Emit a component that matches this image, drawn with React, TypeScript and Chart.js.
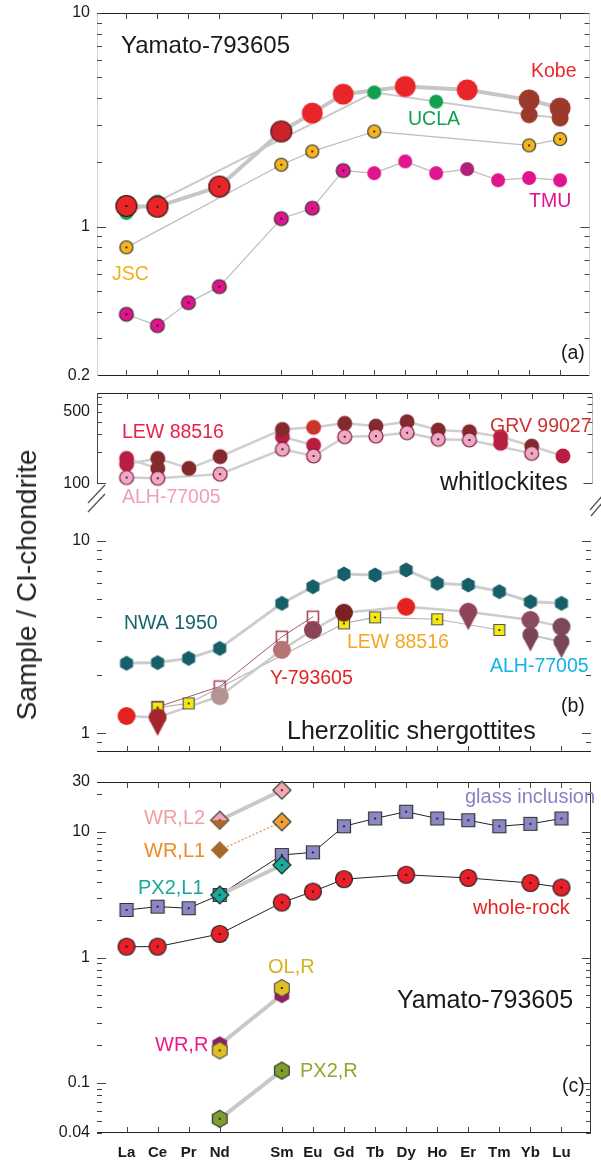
import React, { useEffect, useRef } from 'react';
import { Chart, registerables } from 'chart.js';

Chart.register(...registerables);

const FONT = '"Liberation Sans", Arial, Helvetica, sans-serif';

// ---------- categories ----------
const ELEMENTS = ['La', 'Ce', 'Pr', 'Nd', 'Pm', 'Sm', 'Eu', 'Gd', 'Tb', 'Dy', 'Ho', 'Er', 'Tm', 'Yb', 'Lu'];
const X_TICKS = [0, 1, 2, 3, 5, 6, 7, 8, 9, 10, 11, 12, 13, 14];

// ---------- (a) Yamato-793605 bulk analyses ----------
const A_KOBE = [1.25, 1.24, null, 1.54, null, 2.79, 3.40, 4.17, null, 4.53, null, 4.37, null, 3.92, 3.59];
const A_UCLA = [1.16, 1.31, null, null, null, null, null, null, 4.25, null, 3.85, null, null, 3.34, 3.22];
const A_JSC = [0.80, null, null, null, null, 1.95, 2.25, null, 2.79, null, null, null, null, 2.40, 2.57];
const A_TMU = [0.389, 0.344, 0.441, 0.524, null, 1.09, 1.22, 1.83, 1.78, 2.02, 1.78, 1.86, 1.65, 1.69, 1.65];

// ---------- (b) whitlockites ----------
const W_GRV = [154, 175, 140, 182, null, 336, 352, 385, 362, 399, 331, 319, 285, 231, 185];
const W_LEW = [175, 140, null, null, null, 285, 236, null, null, null, null, null, 246, null, null];
const W_ALH = [114, 112, null, 123, null, 215, 185, 285, 289, 312, 269, 265, null, 196, null];

// ---------- (b) lherzolitic shergottites ----------
const L_NWA = [2.31, 2.33, 2.45, 2.76, null, 4.73, 5.77, 6.72, 6.64, 7.05, 6.01, 5.89, 5.44, 4.82, 4.73];
const L_Y79 = [1.23, 1.21, null, 1.56, null, 2.71, 3.44, 4.23, null, 4.54, null, 4.28, null, 3.88, 3.58];
const L_OPEN = [null, 1.37, null, 1.75, null, 3.17, 4.03, null, null, null, null, null, null, null, null];
const L_LEW = [null, 1.36, 1.43, null, null, null, null, 3.72, 4.00, null, 3.91, null, 3.44, null, null];
const L_ALH = [null, null, null, null, null, null, null, null, null, null, null, null, null, 3.24, 2.99];

// ---------- (c) Yamato-793605 components ----------
const C_GLASS = [2.39, 2.54, 2.47, 3.15, null, 6.55, 6.88, 11.1, 12.8, 14.5, 12.8, 12.4, 11.1, 11.6, 12.8];
const C_WHOLE = [1.22, 1.22, null, 1.54, null, 2.74, 3.35, 4.21, null, 4.56, null, 4.30, null, 3.92, 3.61];
const C_WRL2 = [null, null, null, 12.4, null, 21.5, null, null, null, null, null, null, null, null, null];
const C_WRL1B = [null, null, null, 12.4, null, null, null, null, null, null, null, null, null, null, null];
const C_WRL1 = [null, null, null, 7.18, null, 12.05, null, null, null, null, null, null, null, null, null];
const C_PX2L1 = [null, null, null, 3.15, null, 5.46, null, null, null, null, null, null, null, null, null];
const C_WRR = [null, null, null, 0.202, null, 0.505, null, null, null, null, null, null, null, null, null];
const C_OLR = [null, null, null, 0.182, null, 0.571, null, null, null, null, null, null, null, null, null];
const C_PX2R = [null, null, null, 0.0519, null, 0.1257, null, null, null, null, null, null, null, null, null];

// ---------- axis ticks ----------
const A_Y_VALUES = [0.2, 1, 10];
const A_Y_TEXT = ['0.2', '1', '10'];
const A_Y_MINOR = [0.3, 0.4, 0.5, 0.6, 0.7, 0.8, 0.9, 1, 2, 3, 4, 5, 6, 7, 8, 9, 10];
const BU_Y_VALUES = [100, 500];
const BU_Y_TEXT = ['100', '500'];
const BU_Y_MINOR = [100, 200, 300, 400, 500, 600, 700];
const BL_Y_VALUES = [1, 10];
const BL_Y_TEXT = ['1', '10'];
const BL_Y_MINOR = [0.9, 1, 2, 3, 4, 5, 6, 7, 8, 9, 10];
const C_Y_VALUES = [0.04, 0.1, 1, 10, 25];
const C_Y_TEXT = ['0.04', '0.1', '1', '10', '30'];
const C_Y_MINOR = [0.04, 0.05, 0.06, 0.07, 0.08, 0.09, 0.1, 0.2, 0.3, 0.4, 0.5, 0.6, 0.7, 0.8, 0.9, 1, 2, 3, 4, 5, 6, 7, 8, 9, 10, 20];

// ---------- markers ----------
const markerCache: Record<string, HTMLCanvasElement> = {};
function makeMarker(shape: string, r: number, fill: string | null, stroke: string | null, dot: boolean) {
  const key = `${shape}|${r}|${fill}|${stroke}|${dot}`;
  if (markerCache[key]) return markerCache[key];
  const tip = shape === 'drop' ? r * 1.05 : 0;
  const half = Math.ceil(r + tip + 2);
  const c = document.createElement('canvas');
  c.width = half * 2;
  c.height = half * 2;
  const g = c.getContext('2d')!;
  g.translate(half, half);
  g.beginPath();
  if (shape === 'circle') g.arc(0, 0, r, 0, Math.PI * 2);
  else if (shape === 'square' || shape === 'open') g.rect(-r, -r, 2 * r, 2 * r);
  else if (shape === 'diamond') {
    g.moveTo(0, -r); g.lineTo(r, 0); g.lineTo(0, r); g.lineTo(-r, 0); g.closePath();
  } else if (shape === 'lowerdiamond') {
    g.moveTo(-r, 0); g.lineTo(r, 0); g.lineTo(0, r); g.closePath();
  } else if (shape === 'hex') {
    for (let k = 0; k < 6; k++) {
      const a = ((-90 + 60 * k) * Math.PI) / 180;
      const px = r * Math.cos(a);
      const py = r * Math.sin(a);
      if (k === 0) g.moveTo(px, py); else g.lineTo(px, py);
    }
    g.closePath();
  } else if (shape === 'drop') {
    g.arc(0, 0, r, Math.PI * 0.75, Math.PI * 2.25);
    g.lineTo(0, r + tip);
    g.closePath();
  }
  if (fill && shape !== 'open') { g.fillStyle = fill; g.fill(); }
  if (stroke) { g.lineWidth = shape === 'open' ? 1.6 : 1.2; g.strokeStyle = stroke; g.stroke(); }
  if (dot) { g.beginPath(); g.fillStyle = '#111'; g.arc(0, 0, 1.1, 0, Math.PI * 2); g.fill(); }
  markerCache[key] = c;
  return c;
}
const pick = (v: any, i: number) => (Array.isArray(v) ? v[i] : v);

// ---------- colours ----------
const RED = '#e8262a';
const BROWN = '#9b3a2c';
const GREEN = '#12a050';
const MAG = '#e0148c';
const DARKW = '#842a2e';
const CRIM = '#b81e42';
const OUT = '#333';
const N = null;

// ---------- panels ----------
const PANELS: any[] = [
  {
    id: 'a', canvasTop: -7, canvasHeight: 403, padTop: 20, padBottom: 20,
    yMin: 0.2, yMax: 10, yValues: A_Y_VALUES, yText: A_Y_TEXT, yMinor: A_Y_MINOR, yMajor: [1],
    showX: false,
    frame: { top: '#222', bottom: '#222', left: { color: '#d4d4d4' }, right: { color: '#d4d4d4' }, xTop: true, xBottom: true },
    series: [
      { values: A_TMU, shape: 'circle', r: 7, line: { color: '#bdbdbd', width: 1.2 },
        fill: [MAG, MAG, MAG, MAG, N, MAG, MAG, MAG, MAG, MAG, MAG, '#b0207a', MAG, MAG, MAG],
        stroke: [OUT, OUT, OUT, OUT, N, OUT, OUT, OUT, N, N, N, N, N, N, N],
        dot: [1, 1, 1, 1, 0, 1, 1, 1, 0, 0, 0, 0, 0, 0, 0] },
      { values: A_JSC, shape: 'circle', r: 6.5, fill: '#f5b51f', stroke: OUT, dot: true, line: { color: '#bdbdbd', width: 1.2 } },
      { values: A_UCLA, shape: 'circle', r: [7, 7, N, N, N, N, N, N, 7, N, 7, N, N, 8.5, 8.5],
        fill: [GREEN, GREEN, N, N, N, N, N, N, GREEN, N, GREEN, N, N, BROWN, BROWN], line: { color: '#c8c8c8', width: 1.8 } },
      { values: A_KOBE, shape: 'circle', r: 10.5, line: { color: '#c6c6c6', width: 4 },
        fill: [RED, RED, N, RED, N, '#c8242a', RED, RED, N, RED, N, RED, N, BROWN, BROWN],
        stroke: ['#331111', '#331111', N, '#331111', N, '#551515', N, N, N, N, N, N, N, N, N],
        dot: [1, 1, 0, 1, 0, 0, 0, 0, 0, 0, 0, 0, 0, 0, 0] },
    ],
    notes: [
      { t: 'Yamato-793605', x: 121, y: 46, c: '#1a1a1a', s: 24 },
      { t: 'Kobe', x: 531, y: 72, c: RED, s: 19.5 },
      { t: 'UCLA', x: 408, y: 120, c: GREEN, s: 19.5 },
      { t: 'JSC', x: 112, y: 275, c: '#f2b01e', s: 19.5 },
      { t: 'TMU', x: 529, y: 202, c: MAG, s: 19.5 },
      { t: '(a)', x: 561, y: 354, c: '#1a1a1a', s: 19.5 },
    ],
  },
  {
    id: 'bu', canvasTop: 373, canvasHeight: 150, padTop: 20, padBottom: 20,
    yMin: 64.3, yMax: 761, yValues: BU_Y_VALUES, yText: BU_Y_TEXT, yMinor: BU_Y_MINOR, yMajor: [100],
    showX: false,
    frame: { top: '#222', left: { color: '#444', to: 100 }, right: { color: '#bbb', to: 100 }, xTop: true },
    breaks: [[105, 485, 88, 503], [105, 494, 88, 512], [602, 496, 590, 510], [602, 503, 591, 516]],
    series: [
      { values: W_LEW, shape: 'circle', r: 7.5, span: false, line: { color: '#cfcfcf', width: 2.5 },
        fill: [CRIM, DARKW, N, N, N, CRIM, CRIM, N, N, N, N, N, CRIM, N, N] },
      { values: W_GRV, shape: 'circle', r: 7.5, line: { color: '#cfcfcf', width: 2.5 },
        fill: [CRIM, DARKW, DARKW, DARKW, N, DARKW, '#c8352a', DARKW, DARKW, DARKW, DARKW, DARKW, CRIM, DARKW, CRIM] },
      { values: W_ALH, shape: 'circle', r: 7, fill: '#f0a8c4', stroke: '#7a1a30', dot: true, line: { color: '#cfcfcf', width: 2.5 } },
    ],
    notes: [
      { t: 'LEW 88516', x: 122, y: 433, c: '#e8204e', s: 19.5 },
      { t: 'GRV 99027', x: 490, y: 427, c: '#cc3333', s: 19.5 },
      { t: 'ALH-77005', x: 122, y: 498, c: '#f29cbe', s: 19.5 },
      { t: 'whitlockites', x: 440, y: 483, c: '#1a1a1a', s: 25 },
    ],
  },
  {
    id: 'bl', canvasTop: 486, canvasHeight: 286, padTop: 20, padBottom: 20,
    yMin: 0.8, yMax: 15.14, yValues: BL_Y_VALUES, yText: BL_Y_TEXT, yMinor: BL_Y_MINOR, yMajor: [1, 10],
    showX: false,
    frame: { bottom: '#222', xBottom: true },
    series: [
      { values: L_NWA, shape: 'hex', r: 7.5, fill: '#175f68', line: { color: '#cdcdcd', width: 3 } },
      { values: L_OPEN, shape: 'open', r: 5.5, fill: N, stroke: '#a04858', line: { color: '#a45a6a', width: 1 } },
      { values: L_LEW, shape: 'square', r: 5.5, fill: '#f4ea10', stroke: '#555', dot: true, line: { color: '#b5b5b5', width: 1.2 } },
      { values: L_ALH, shape: 'drop', r: 8, fill: '#7a4656', line: { color: '#c4c4c4', width: 2 } },
      { values: L_Y79, r: 9, line: { color: '#cccccc', width: 2.5 },
        shape: ['circle', 'drop', N, 'circle', N, 'circle', 'circle', 'circle', N, 'circle', N, 'drop', N, 'circle', 'circle'],
        fill: ['#e52222', '#a3262e', N, '#b39494', N, '#b87474', '#8c4456', '#7a2222', N, '#e52222', N, '#8c4456', N, '#8c4a5c', '#7a4858'] },
    ],
    notes: [
      { t: 'NWA 1950', x: 124, y: 624, c: '#17646c', s: 19.5 },
      { t: 'Y-793605', x: 270, y: 679, c: '#e82020', s: 19.5 },
      { t: 'LEW 88516', x: 347, y: 643, c: '#f5a623', s: 19.5 },
      { t: 'ALH-77005', x: 490, y: 667, c: '#12b2ea', s: 19.5 },
      { t: '(b)', x: 561, y: 707, c: '#1a1a1a', s: 19.5 },
      { t: 'Lherzolitic shergottites', x: 287, y: 732, c: '#1a1a1a', s: 25 },
    ],
  },
  {
    id: 'c', canvasTop: 762, canvasHeight: 401, padTop: 20, padBottom: 0,
    yMin: 0.04, yMax: 25, yValues: C_Y_VALUES, yText: C_Y_TEXT, yMinor: C_Y_MINOR, yMajor: [0.1, 1, 10],
    showX: true,
    frame: { top: '#222', bottom: '#222', right: { color: '#333' }, xTop: true, xBottom: true },
    series: [
      { values: C_GLASS, shape: 'square', r: 6.5, fill: '#8c88c6', stroke: OUT, dot: true, line: { color: '#222', width: 1 } },
      { values: C_WHOLE, shape: 'circle', r: 8.5, fill: '#e8202a', stroke: '#222', dot: true, line: { color: '#222', width: 1 } },
      { values: C_PX2L1, shape: 'diamond', r: 9, fill: '#1aa89c', stroke: '#222', dot: true, line: { color: '#c8c8c8', width: 4 } },
      { values: C_WRL2, shape: 'diamond', r: 9, fill: '#f4a8b4', stroke: OUT, dot: true, line: { color: '#c8c8c8', width: 4 } },
      { values: C_WRL1B, shape: 'lowerdiamond', r: 9, fill: '#a8682c' },
      { values: C_WRL1, shape: 'diamond', r: 9, line: { color: '#d4a878', width: 1.5, dash: [2, 2] },
        fill: [N, N, N, '#a8682c', N, '#f0a030', N, N, N, N, N, N, N, N, N],
        stroke: [N, N, N, N, N, OUT, N, N, N, N, N, N, N, N, N],
        dot: [0, 0, 0, 0, 0, 1, 0, 0, 0, 0, 0, 0, 0, 0, 0] },
      { values: C_WRR, shape: 'hex', r: 8.5, fill: '#8b2060', line: { color: '#c8c8c8', width: 4 } },
      { values: C_OLR, shape: 'hex', r: 8.5, fill: '#e0c020', stroke: '#555', dot: true },
      { values: C_PX2R, shape: 'hex', r: 8.5, fill: '#7e9e2e', stroke: OUT, dot: true, line: { color: '#c8c8c8', width: 4 } },
    ],
    notes: [
      { t: 'WR,L2', x: 144, y: 818, c: '#f29ca6', s: 20 },
      { t: 'WR,L1', x: 144, y: 851, c: '#f08a22', s: 20 },
      { t: 'PX2,L1', x: 138, y: 888, c: '#16a89c', s: 20 },
      { t: 'glass inclusion', x: 465, y: 797, c: '#8882c4', s: 20 },
      { t: 'whole-rock', x: 473, y: 908, c: '#e82020', s: 20 },
      { t: 'OL,R', x: 268, y: 967, c: '#d6b21e', s: 20 },
      { t: 'WR,R', x: 155, y: 1045, c: '#f0198c', s: 20 },
      { t: 'PX2,R', x: 300, y: 1071, c: '#8eaa2c', s: 20 },
      { t: 'Yamato-793605', x: 397, y: 1001, c: '#1a1a1a', s: 25 },
      { t: '(c)', x: 562, y: 1087, c: '#1a1a1a', s: 19.5 },
    ],
  },
];

function panelPlugin(p: any) {
  return {
    id: 'panel_' + p.id,
    beforeDatasetsDraw(chart: any) {
      const { ctx, chartArea: a } = chart;
      const xs = chart.scales.x;
      const ys = chart.scales.y;
      const f = p.frame;
      const tc = '#444';
      const seg = (x1: number, y1: number, x2: number, y2: number, color: string, w = 1) => {
        ctx.strokeStyle = color;
        ctx.lineWidth = w;
        ctx.beginPath();
        ctx.moveTo(x1, y1);
        ctx.lineTo(x2, y2);
        ctx.stroke();
      };
      const L = Math.round(a.left) + 0.5;
      const R = Math.round(a.right) - 0.5;
      const T = Math.round(a.top) + 0.5;
      const B = Math.round(a.bottom) - 0.5;
      ctx.save();
      if (f.top) seg(a.left, T, a.right, T, f.top);
      if (f.bottom) seg(a.left, B, a.right, B, f.bottom);
      if (f.left) seg(L, a.top, L, f.left.to != null ? ys.getPixelForValue(f.left.to) : a.bottom, f.left.color);
      if (f.right) seg(R, a.top, R, f.right.to != null ? ys.getPixelForValue(f.right.to) : a.bottom, f.right.color);
      X_TICKS.forEach((v) => {
        const px = Math.round(xs.getPixelForValue(v)) + 0.5;
        if (f.xTop) seg(px, a.top, px, a.top + 6, tc);
        if (f.xBottom) seg(px, a.bottom, px, a.bottom - 6, tc);
      });
      p.yMinor.forEach((v: number) => {
        const py = Math.round(ys.getPixelForValue(v)) + 0.5;
        const len = p.yMajor.includes(v) ? 9 : 5;
        seg(a.left, py, a.left + len, py, tc);
        seg(a.right, py, a.right - len, py, tc);
      });
      (p.breaks || []).forEach((b: number[]) => seg(b[0], b[1] - p.canvasTop, b[2], b[3] - p.canvasTop, '#555', 1.3));
      ctx.restore();
    },
    afterDatasetsDraw(chart: any) {
      const ctx = chart.ctx;
      ctx.save();
      ctx.textBaseline = 'middle';
      ctx.textAlign = 'left';
      p.notes.forEach((n: any) => {
        ctx.font = `${n.s}px ${FONT}`;
        ctx.fillStyle = n.c;
        ctx.fillText(n.t, n.x, n.y - p.canvasTop);
      });
      ctx.restore();
    },
  };
}

function buildChart(canvas: HTMLCanvasElement, p: any) {
  const lineSets: any[] = [];
  const pointSets: any[] = [];
  p.series.forEach((s: any) => {
    if (s.line) {
      lineSets.push({
        data: s.values.map((v: any, i: number) => ({ x: i, y: v })),
        showLine: true,
        spanGaps: s.span !== false,
        borderColor: s.line.color,
        borderWidth: s.line.width,
        borderDash: s.line.dash || [],
        borderJoinStyle: 'round',
        borderCapStyle: s.line.dash ? 'butt' : 'round',
        pointRadius: 0,
        pointHoverRadius: 0,
        pointHitRadius: 0,
        tension: 0,
        fill: false,
        clip: false,
      });
    }
    const styles = s.values.map((v: any, i: number) =>
      v == null ? null : makeMarker(pick(s.shape, i), pick(s.r, i), pick(s.fill, i), pick(s.stroke, i) || null, !!pick(s.dot, i))
    );
    pointSets.push({
      data: s.values.map((v: any, i: number) => ({ x: i, y: v })),
      showLine: false,
      pointStyle: (c: any) => styles[c.dataIndex] || 'circle',
      pointRadius: (c: any) => pick(s.r, c.dataIndex) || 1,
      pointHoverRadius: (c: any) => pick(s.r, c.dataIndex) || 1,
      pointBackgroundColor: 'rgba(0,0,0,0)',
      pointBorderColor: 'rgba(0,0,0,0)',
      clip: false,
    });
  });
  const datasets = [...lineSets, ...pointSets];
  datasets.forEach((d, k) => { d.order = datasets.length - k; });

  return new Chart(canvas, {
    type: 'line',
    data: { datasets },
    options: {
      responsive: false,
      maintainAspectRatio: false,
      animation: false,
      devicePixelRatio: 1,
      events: [],
      layout: { padding: { top: p.padTop, bottom: p.padBottom, left: 0, right: 3 } },
      plugins: { legend: { display: false }, tooltip: { enabled: false } },
      scales: {
        x: {
          type: 'linear',
          min: -0.95,
          max: 14.95,
          display: p.showX,
          grid: { display: false, drawTicks: false },
          border: { display: false },
          afterBuildTicks: (s: any) => { s.ticks = X_TICKS.map((v) => ({ value: v })); },
          afterFit: (s: any) => { s.height = p.showX ? 30 : 0; },
          ticks: {
            autoSkip: false,
            maxRotation: 0,
            minRotation: 0,
            padding: 11,
            color: '#1a1a1a',
            font: { family: FONT, size: 15, weight: 'bold' },
            callback: (v: any) => ELEMENTS[v] ?? '',
          },
        },
        y: {
          type: 'logarithmic',
          min: p.yMin,
          max: p.yMax,
          grid: { display: false, drawTicks: false },
          border: { display: false },
          afterBuildTicks: (s: any) => { s.ticks = p.yValues.map((v: number) => ({ value: v })); },
          afterFit: (s: any) => { s.width = 97; },
          ticks: {
            autoSkip: false,
            padding: 7,
            color: '#1a1a1a',
            font: { family: FONT, size: 16 },
            callback: (v: any) => {
              const k = p.yValues.findIndex((lv: number) => Math.abs(lv - v) < 1e-6 * lv);
              return k >= 0 ? p.yText[k] : '';
            },
          },
        },
      },
    } as any,
    plugins: [panelPlugin(p)],
  });
}

export default function App() {
  const refs = useRef<(HTMLCanvasElement | null)[]>([]);
  useEffect(() => {
    const charts = PANELS.map((p, i) => buildChart(refs.current[i]!, p));
    return () => charts.forEach((c) => c.destroy());
  }, []);
  return (
    <div style={{ position: 'absolute', left: 0, top: 0, width: 601, height: 1163, background: '#fff', overflow: 'hidden' }}>
      {PANELS.map((p, i) => (
        <canvas
          key={p.id}
          ref={(el) => { refs.current[i] = el; }}
          width={601}
          height={p.canvasHeight}
          style={{ position: 'absolute', left: 0, top: p.canvasTop, width: 601, height: p.canvasHeight }}
        />
      ))}
      <div
        style={{
          position: 'absolute',
          left: 27,
          top: 585,
          transform: 'translate(-50%, -50%) rotate(-90deg)',
          whiteSpace: 'nowrap',
          fontFamily: FONT,
          fontSize: 28,
          color: '#222',
          lineHeight: 1,
        }}
      >
        Sample / CI-chondrite
      </div>
    </div>
  );
}
